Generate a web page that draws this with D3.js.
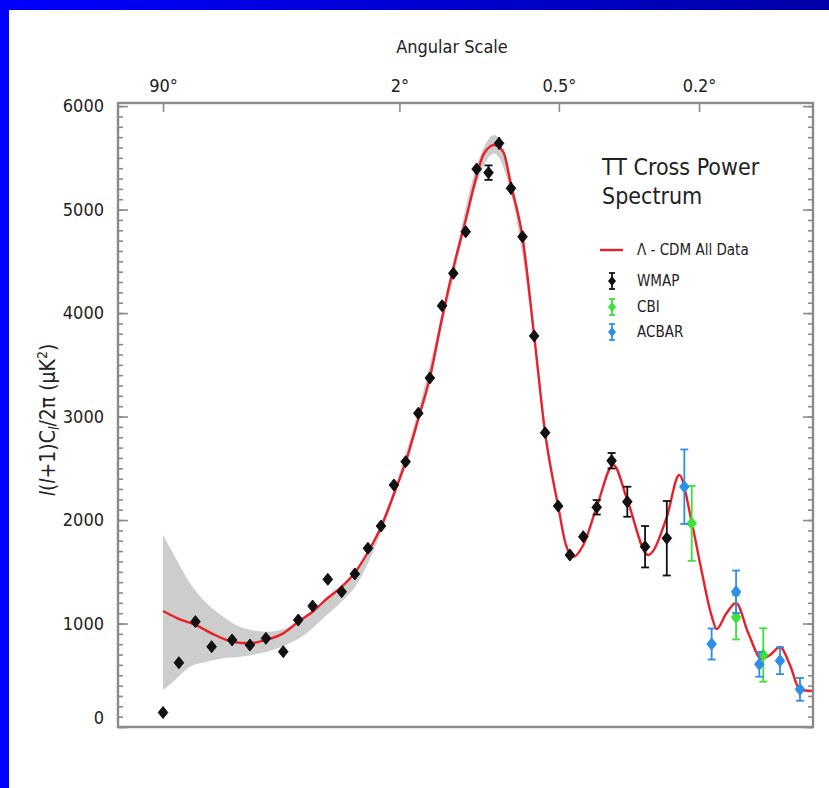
<!DOCTYPE html>
<html>
<head>
<meta charset="utf-8">
<script src="https://cdn.jsdelivr.net/npm/d3@7"></script>
<style>
  body { margin: 0; background: #fff; }
  svg text { font-family: "Liberation Sans Narrow", "DejaVu Sans", sans-serif; font-stretch: condensed; fill: #222; }
</style>
</head>
<body>
<div id="chart"></div>
<script>
// top axis: multipole l where the angular scale ticks sit
var angleTicks = [2, 90, 360, 900];
var angleLabels = ["90°", "2°", "0.5°", "0.2°"];
var yTicks = [0, 1000, 2000, 3000, 4000, 5000, 6000];

// Lambda-CDM best fit
var modelL = [2, 2.9, 4.4, 6.2, 9.2, 12.6, 16.4, 21.4, 26.6, 32.4, 39.3, 47, 55, 64, 74, 85, 96, 109, 122, 137, 152, 170, 187, 198, 217, 234, 249, 273, 299, 325, 358, 379, 400, 429, 471, 527, 578, 661, 742, 800, 862, 905, 968, 996, 1050, 1111, 1188, 1277, 1335, 1407, 1482, 1560, 1666];
var modelV = [1121, 1050, 986, 905, 824, 809, 841, 905, 1018, 1114, 1244, 1356, 1491, 1691, 1933, 2252, 2561, 2976, 3373, 3952, 4436, 4900, 5325, 5528, 5624, 5557, 5238, 4735, 3779, 2841, 2136, 1759, 1643, 1759, 2126, 2532, 2194, 1662, 2029, 2435, 1981, 1585, 1073, 947, 1092, 1198, 908, 657, 696, 773, 599, 358, 348];

// cosmic variance band
var bandL = [2, 2.6, 3.9, 5.6, 7.8, 10.6, 16.6, 23.6, 29.9, 37.3, 46, 56, 74, 109, 152, 187, 217, 249, 299, 325];
var bandHi = [1855, 1679, 1389, 1195, 1066, 969, 921, 969, 1066, 1211, 1343, 1498, 1965, 3060, 4470, 5420, 5720, 5320, 3840, 2890];
var bandLo = [358, 438, 583, 631, 664, 679, 728, 809, 905, 1050, 1195, 1372, 1880, 2950, 4330, 5250, 5540, 5160, 3720, 2800];

var wmapL = [2, 3, 4.4, 6.2, 9.2, 12.6, 16.4, 21.4, 26.6, 32.4, 39.5, 47, 55, 64, 74, 85, 96, 109, 122, 137, 152, 170, 187, 207, 226, 249, 273, 299, 325, 358, 390, 429, 471, 521, 578, 648, 742];
var wmapV = [140, 621, 1018, 776, 841, 792, 857, 728, 1034, 1169, 1427, 1307, 1479, 1727, 1942, 2339, 2564, 3032, 3373, 4071, 4384, 4786, 5392, 5357, 5641, 5206, 4738, 3779, 2844, 2136, 1662, 1839, 2123, 2573, 2177, 1742, 1824];
var wmapErr = [20, 20, 25, 25, 25, 25, 25, 30, 30, 30, 35, 35, 35, 40, 40, 40, 45, 45, 50, 50, 55, 55, 55, 70, 60, 60, 55, 50, 45, 40, 40, 50, 70, 75, 145, 200, 360];

var cbiL = [862, 1111, 1288];
var cbiV = [1968, 1060, 696];
var cbiErr = [362, 214, 258];

var acbarL = [825, 968, 1111, 1261, 1407, 1560];
var acbarV = [2322, 802, 1307, 606, 641, 364];
var acbarErr = [360, 150, 205, 120, 130, 110];

var legendNames = ["\u039B - CDM All Data", "WMAP", "CBI", "ACBAR"];
var titleLines = ["TT Cross Power", "Spectrum"];

var red = "#e8202a", green = "#3ee03a", blue = "#2f8fe8", black = "#111";

var W = 829, H = 788;
var pLeft = 118, pRight = 813, pTop = 103, pBottom = 727;

var svg = d3.select("#chart").append("svg")
    .attr("width", W)
    .attr("height", H);

// blue slide frame
var grad = svg.append("defs").append("linearGradient")
    .attr("id", "topgrad").attr("x1", "0").attr("x2", "1");
grad.append("stop").attr("offset", "0").attr("stop-color", "#0000ff");
grad.append("stop").attr("offset", "1").attr("stop-color", "#0000a8");
svg.append("rect").attr("x", 0).attr("y", 0).attr("width", W).attr("height", 10).attr("fill", "url(#topgrad)");
svg.append("rect").attr("x", 0).attr("y", 0).attr("width", 9).attr("height", H).attr("fill", "#0000ff");

var x = d3.scalePow().exponent(0.25).domain([0.472, 1666]).range([pLeft, pRight]);
var y = d3.scaleLinear().domain([0, 6030]).range([pBottom, pTop]);

var plot = svg.append("g");

// band
var band = d3.area()
    .x(function(d){ return x(d[0]); })
    .y0(function(d){ return y(d[1]); })
    .y1(function(d){ return y(d[2]); })
    .curve(d3.curveMonotoneX);
var bandData = bandL.map(function(l, i){ return [l, bandLo[i], bandHi[i]]; });
plot.append("path").datum(bandData)
    .attr("d", band)
    .attr("fill", "#cdcdcd");

// model line
var line = d3.line()
    .x(function(d){ return x(d[0]); })
    .y(function(d){ return y(d[1]); })
    .curve(d3.curveMonotoneX);
plot.append("path").datum(modelL.map(function(l, i){ return [l, modelV[i]]; }))
    .attr("d", line)
    .attr("fill", "none")
    .attr("stroke", red)
    .attr("stroke-width", 2.4);

var diamond = "M0,-6L4.8,0L0,6L-4.8,0Z";

function drawSeries(L, V, E, color){
    var g = plot.append("g");
    for(var i = 0; i < L.length; i++){
        var cx = x(L[i]);
        var y0 = y(V[i] - E[i]), y1 = y(V[i] + E[i]);
        g.append("line").attr("x1", cx).attr("x2", cx).attr("y1", y0).attr("y2", y1)
            .attr("stroke", color).attr("stroke-width", 1.8);
        if(E[i] > 60){
            g.append("line").attr("x1", cx - 4).attr("x2", cx + 4).attr("y1", y0).attr("y2", y0)
                .attr("stroke", color).attr("stroke-width", 1.8);
            g.append("line").attr("x1", cx - 4).attr("x2", cx + 4).attr("y1", y1).attr("y2", y1)
                .attr("stroke", color).attr("stroke-width", 1.8);
        }
        g.append("path").attr("d", diamond)
            .attr("transform", "translate(" + cx + "," + y(V[i]) + ")")
            .attr("fill", color).attr("stroke", color).attr("stroke-width", 1)
            .attr("stroke-linejoin", "round");
    }
}
drawSeries(wmapL, wmapV, wmapErr, black);
drawSeries(cbiL, cbiV, cbiErr, green);
drawSeries(acbarL, acbarV, acbarErr, blue);

// axes
var axisColor = "#8a8a8a";
function styleAxis(g){
    g.select(".domain").remove();
    g.selectAll(".tick line").attr("stroke", axisColor).attr("stroke-width", 1.6);
}
var minorTicks = d3.range(0, 6001, 100);

svg.append("g").attr("transform", "translate(" + pLeft + ",0)")
    .call(d3.axisRight(y).tickValues(minorTicks).tickSize(5).tickFormat(""))
    .call(styleAxis);
svg.append("g").attr("transform", "translate(" + pLeft + ",0)")
    .call(d3.axisRight(y).tickValues(yTicks).tickSize(10).tickFormat(""))
    .call(styleAxis);
svg.append("g").attr("transform", "translate(" + pRight + ",0)")
    .call(d3.axisLeft(y).tickValues(minorTicks).tickSize(5).tickFormat(""))
    .call(styleAxis);
svg.append("g").attr("transform", "translate(" + pRight + ",0)")
    .call(d3.axisLeft(y).tickValues(yTicks).tickSize(10).tickFormat(""))
    .call(styleAxis);

var yLab = svg.append("g").attr("transform", "translate(" + pLeft + ",0)")
    .call(d3.axisLeft(y).tickValues(yTicks).tickSize(0).tickPadding(14).tickFormat(d3.format("d")));
yLab.select(".domain").remove();
yLab.selectAll("text").attr("font-size", 18).attr("font-family", null).attr("fill", "#222");
yLab.selectAll(".tick").filter(function(d){ return d === 0; }).select("text").attr("dy", "-0.2em");

svg.append("g").attr("transform", "translate(0," + pTop + ")")
    .call(d3.axisBottom(x).tickValues(angleTicks).tickSize(9).tickFormat(""))
    .call(styleAxis);
var xLab = svg.append("g").attr("transform", "translate(0," + pTop + ")")
    .call(d3.axisTop(x).tickValues(angleTicks).tickSize(0).tickPadding(11)
        .tickFormat(function(d, i){ return angleLabels[i]; }));
xLab.select(".domain").remove();
xLab.selectAll("text").attr("font-size", 18).attr("font-family", null).attr("fill", "#222");

// frame
svg.append("rect")
    .attr("x", pLeft).attr("y", pTop)
    .attr("width", pRight - pLeft).attr("height", pBottom - pTop)
    .attr("fill", "none")
    .attr("stroke", axisColor)
    .attr("stroke-width", 2.4);

svg.append("text")
    .attr("x", 452).attr("y", 53)
    .attr("text-anchor", "middle")
    .attr("font-size", 18)
    .text("Angular Scale");

var yt = svg.append("text")
    .attr("transform", "translate(55,420) rotate(-90)")
    .attr("text-anchor", "middle")
    .attr("font-size", 21);
yt.append("tspan").attr("font-style", "italic").text("l");
yt.append("tspan").text("(");
yt.append("tspan").attr("font-style", "italic").text("l");
yt.append("tspan").text("+1)C");
yt.append("tspan").attr("font-style", "italic").attr("font-size", 14).attr("dy", 4).text("l");
yt.append("tspan").attr("dy", -4).text("/2\u03C0 (\u03BCK");
yt.append("tspan").attr("font-size", 14).attr("dy", -8).text("2");
yt.append("tspan").attr("dy", 8).text(")");

// legend
var leg = svg.append("g");
titleLines.forEach(function(t, i){
    leg.append("text").attr("x", 602).attr("y", 175 + i * 29)
        .attr("font-size", 23).text(t);
});
var legY = [250, 281, 307, 332];
var legColors = [red, black, green, blue];
legendNames.forEach(function(name, i){
    var ly = legY[i];
    if(i === 0){
        leg.append("line").attr("x1", 600).attr("x2", 623).attr("y1", ly).attr("y2", ly)
            .attr("stroke", red).attr("stroke-width", 2.4);
    } else {
        leg.append("line").attr("x1", 612).attr("x2", 612).attr("y1", ly - 8).attr("y2", ly + 8)
            .attr("stroke", legColors[i]).attr("stroke-width", 1.8);
        leg.append("line").attr("x1", 609).attr("x2", 615).attr("y1", ly - 8).attr("y2", ly - 8)
            .attr("stroke", legColors[i]).attr("stroke-width", 1.8);
        leg.append("line").attr("x1", 609).attr("x2", 615).attr("y1", ly + 8).attr("y2", ly + 8)
            .attr("stroke", legColors[i]).attr("stroke-width", 1.8);
        leg.append("path").attr("d", "M0,-5L4,0L0,5L-4,0Z")
            .attr("transform", "translate(612," + ly + ")")
            .attr("fill", legColors[i]);
    }
    leg.append("text").attr("x", 637).attr("y", ly).attr("dy", "0.35em")
        .attr("font-size", 15).text(name);
});
</script>
</body>
</html>
